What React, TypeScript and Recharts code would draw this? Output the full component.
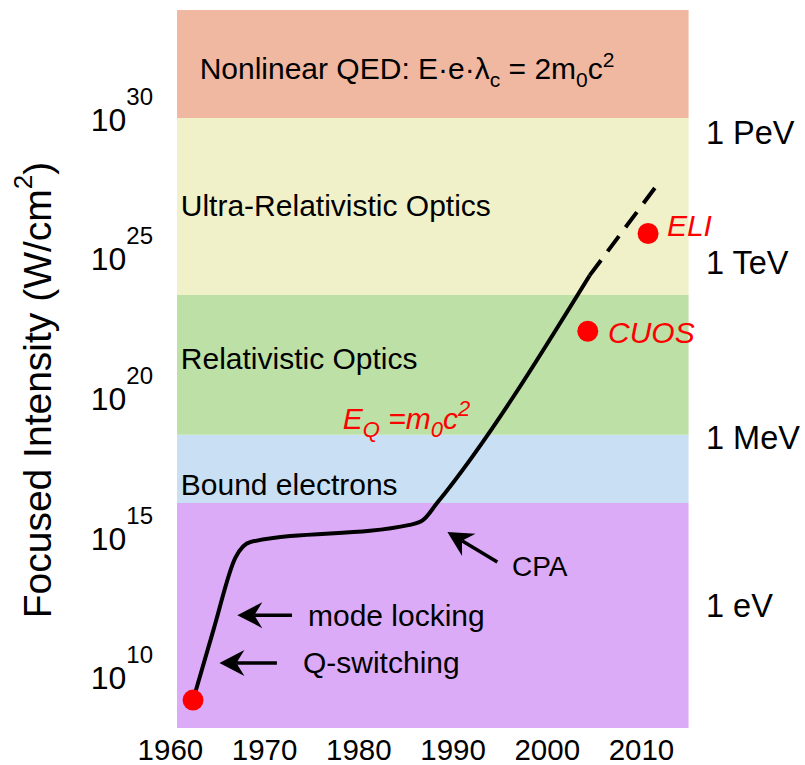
import React from "react";
import {
  ComposedChart,
  Line,
  Scatter,
  XAxis,
  YAxis,
  ReferenceArea,
  ReferenceLine,
  ReferenceDot,
} from "recharts";

// intensity is plotted as log10(W/cm^2)
const yearTicks = [1960, 1970, 1980, 1990, 2000, 2010];
const powerTicks = [10, 15, 20, 25, 30];

const energyNames = ["1 eV", "1 MeV", "1 TeV", "1 PeV"];
const energyLogI = [12.3, 18.3, 24.55, 29.2];

const bandNames = ["laser", "bound", "rel", "ultra", "qed"];
const bandFrom = [7.9, 15.95, 18.4, 23.4, 29.73];
const bandTo = [15.95, 18.4, 23.4, 29.73, 33.6];
const bandColors = ["#dcabf7", "#c9e0f4", "#bde0a6", "#f1f1c9", "#f1b8a1"];

const solidYears = [1962.4, 1964.6, 1966.9, 1968.5, 1985.4, 1986.8, 1988.3, 2004.5];
const solidLogI = [8.9, 11.45, 14.0, 14.56, 15.17, 15.34, 15.95, 24.1];

const projYears = [2004.5, 2011.8];
const projLogI = [24.1, 27.4];

const facilityNames = ["first laser", "CUOS", "ELI"];
const facilityYears = [1962.4, 2004.3, 2010.7];
const facilityLogI = [8.9, 22.1, 25.6];

const solid = solidYears.map((x, i) => ({ x, y: solidLogI[i] }));
const proj = projYears.map((x, i) => ({ x, y: projLogI[i] }));
const facilities = facilityYears.map((x, i) => ({
  x,
  y: facilityLogI[i],
  name: facilityNames[i],
}));

const FONT = "'Liberation Sans', Arial, Helvetica, sans-serif";
const RED = "#ff0000";
const INK = "#000";

const YEAR_MIN = 1960.7;
const YEAR_MAX = 2015.0;
const X_DOMAIN_MAX = 2016;

function LeftTick(props: any) {
  const { x, y, payload } = props;
  return (
    <text x={x - 6} y={y + 20} textAnchor="end" fontFamily={FONT} fontSize={32} fill={INK}>
      <tspan>10</tspan>
      <tspan dy={-26} fontSize={24}>
        {payload.value}
      </tspan>
    </text>
  );
}

function YearTick(props: any) {
  const { x, y, payload } = props;
  return (
    <text x={x} y={y + 30} textAnchor="middle" fontFamily={FONT} fontSize={29.5} fill={INK}>
      {payload.value}
    </text>
  );
}

function AxisTitle(props: any) {
  const vb = props.viewBox;
  const cx = vb.x + 37;
  const cy = 390;
  return (
    <text
      x={cx}
      y={cy}
      transform={`rotate(-90 ${cx} ${cy})`}
      textAnchor="middle"
      dominantBaseline="central"
      fontFamily={FONT}
      fontSize={39}
      fill={INK}
    >
      Focused Intensity (W/cm
      <tspan dy={-14} fontSize={26}>
        2
      </tspan>
      <tspan dy={14}>)</tspan>
    </text>
  );
}

function textAt(content: React.ReactNode, opts: any = {}) {
  return (p: any) => (
    <text
      x={p.cx + (opts.dx ?? 0)}
      y={p.cy}
      dy={opts.dy ?? 10.5}
      fontFamily={FONT}
      fontSize={opts.size ?? 30}
      fill={opts.color ?? INK}
      fontStyle={opts.italic ? "italic" : "normal"}
      style={{ whiteSpace: "pre" }}
    >
      {content}
    </text>
  );
}

function Arrow(p: any) {
  const { x1, y1, x2, y2 } = p;
  const ang = Math.atan2(y2 - y1, x2 - x1);
  const len = 25;
  const half = 13;
  const ux = Math.cos(ang);
  const uy = Math.sin(ang);
  const bx = x2 - ux * len;
  const by = y2 - uy * len;
  const nx = x2 - ux * (len - 8);
  const ny = y2 - uy * (len - 8);
  const pts = [
    [x2, y2],
    [bx - uy * half, by + ux * half],
    [nx, ny],
    [bx + uy * half, by - ux * half],
  ]
    .map((q) => q.join(","))
    .join(" ");
  return (
    <g>
      <line x1={x1} y1={y1} x2={nx} y2={ny} stroke={INK} strokeWidth={3.5} />
      <polygon points={pts} fill={INK} />
    </g>
  );
}

export default function App() {
  return (
    <div style={{ position: "absolute", left: 0, top: 0, background: "#fff" }}>
      <ComposedChart
        width={805}
        height={765}
        margin={{ top: 10, right: 107, bottom: 0, left: 0 }}
      >
        <XAxis
          dataKey="x"
          type="number"
          domain={[1959, X_DOMAIN_MAX]}
          ticks={yearTicks}
          interval={0}
          height={37}
          axisLine={false}
          tickLine={false}
          tickSize={0}
          tick={<YearTick />}
        />
        <YAxis
          yAxisId="l"
          type="number"
          domain={[7.9, 33.6]}
          ticks={powerTicks}
          interval={0}
          width={161}
          axisLine={false}
          tickLine={false}
          tickSize={0}
          tick={<LeftTick />}
          label={{ content: <AxisTitle /> }}
        />

        {bandNames.map((b, i) => (
          <ReferenceArea
            key={b}
            yAxisId="l"
            x1={YEAR_MIN}
            x2={YEAR_MAX}
            y1={bandFrom[i]}
            y2={bandTo[i]}
            fill={bandColors[i]}
            fillOpacity={1}
            stroke="none"
          />
        ))}

        <Line
          yAxisId="l"
          data={solid}
          dataKey="y"
          type="monotone"
          stroke={INK}
          strokeWidth={4}
          dot={false}
          isAnimationActive={false}
        />
        <Line
          yAxisId="l"
          data={proj}
          dataKey="y"
          type="linear"
          stroke={INK}
          strokeWidth={4}
          strokeDasharray="19 11"
          dot={false}
          isAnimationActive={false}
        />
        <Scatter
          yAxisId="l"
          data={facilities}
          dataKey="y"
          fill={RED}
          isAnimationActive={false}
          shape={(p: any) => <circle cx={p.cx} cy={p.cy} r={10.5} fill={RED} />}
        />

        {energyNames.map((name, i) => (
          <ReferenceDot
            key={name}
            yAxisId="l"
            x={X_DOMAIN_MAX}
            y={energyLogI[i]}
            shape={textAt(name, { dx: 8, dy: 11.5, size: 32.5 })}
          />
        ))}

        <ReferenceDot
          yAxisId="l"
          x={1963.1}
          y={31.52}
          shape={textAt(
            <>
              Nonlinear QED: E·e·λ
              <tspan dy={8} fontSize={21}>c</tspan>
              <tspan dy={-8}> = 2m</tspan>
              <tspan dy={8} fontSize={21}>0</tspan>
              <tspan dy={-8}>c</tspan>
              <tspan dy={-12} fontSize={21}>2</tspan>
            </>
          )}
        />
        <ReferenceDot yAxisId="l" x={1961.1} y={26.62} shape={textAt("Ultra-Relativistic Optics")} />
        <ReferenceDot yAxisId="l" x={1961.1} y={21.14} shape={textAt("Relativistic Optics")} />
        <ReferenceDot yAxisId="l" x={1961.1} y={16.6} shape={textAt("Bound electrons")} />
        <ReferenceDot
          yAxisId="l"
          x={1978.3}
          y={18.99}
          shape={textAt(
            <>
              E
              <tspan dy={8} fontSize={22}>Q</tspan>
              <tspan dy={-8}> =m</tspan>
              <tspan dy={8} fontSize={22}>0</tspan>
              <tspan dy={-8}>c</tspan>
              <tspan dy={-13} fontSize={22}>2</tspan>
            </>,
            { color: RED, italic: true, size: 30 }
          )}
        />
        <ReferenceDot yAxisId="l" x={2012.7} y={25.9} shape={textAt("ELI", { color: RED, italic: true })} />
        <ReferenceDot yAxisId="l" x={2006.45} y={22.07} shape={textAt("CUOS", { color: RED, italic: true })} />
        <ReferenceDot yAxisId="l" x={1974.6} y={11.94} shape={textAt("mode locking")} />
        <ReferenceDot yAxisId="l" x={1974.07} y={10.23} shape={textAt("Q-switching")} />
        <ReferenceDot yAxisId="l" x={1996.26} y={13.73} shape={textAt("CPA", { size: 28 })} />

        <ReferenceLine
          yAxisId="l"
          segment={[
            { x: 1972.9, y: 11.94 },
            { x: 1967.1, y: 11.94 },
          ]}
          shape={Arrow}
        />
        <ReferenceLine
          yAxisId="l"
          segment={[
            { x: 1971.3, y: 10.23 },
            { x: 1965.2, y: 10.23 },
          ]}
          shape={Arrow}
        />
        <ReferenceLine
          yAxisId="l"
          segment={[
            { x: 1994.7, y: 13.84 },
            { x: 1989.4, y: 14.92 },
          ]}
          shape={Arrow}
        />
      </ComposedChart>
    </div>
  );
}
